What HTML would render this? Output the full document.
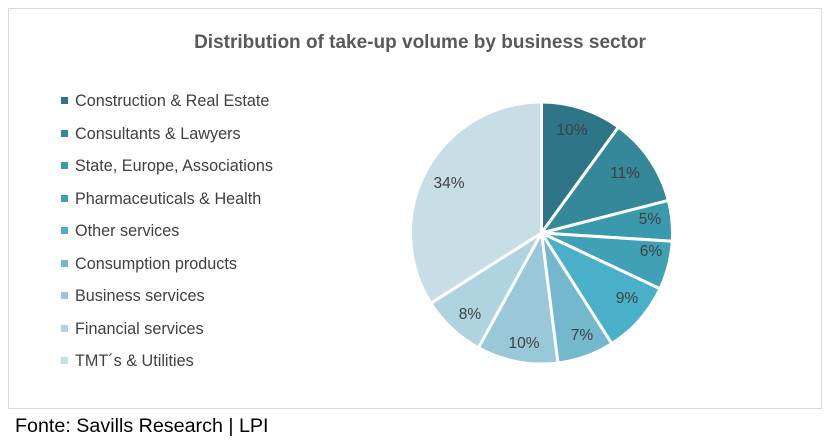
<!DOCTYPE html>
<html><head><meta charset="utf-8"><style>
body{margin:0;background:#fff;width:835px;height:441px;overflow:hidden;font-family:"Liberation Sans",sans-serif}
</style></head><body>
<svg width="835" height="441" xmlns="http://www.w3.org/2000/svg" font-family="Liberation Sans, sans-serif">
<rect x="8.5" y="8.5" width="813" height="400" fill="#fff" stroke="#d9d9d9"/>
<text x="420" y="48" text-anchor="middle" font-size="19" font-weight="bold" fill="#595959">Distribution of take-up volume by business sector</text>
<g font-size="16.2" fill="#404040">
<rect x="61" y="97" width="7" height="7" fill="#2e7587"/><text x="75" y="106">Construction &amp; Real Estate</text>
<rect x="61" y="130" width="7" height="7" fill="#348899"/><text x="75" y="139">Consultants &amp; Lawyers</text>
<rect x="61" y="162" width="7" height="7" fill="#3a99ad"/><text x="75" y="171">State, Europe, Associations</text>
<rect x="61" y="195" width="7" height="7" fill="#40a0b5"/><text x="75" y="204">Pharmaceuticals &amp; Health</text>
<rect x="61" y="227" width="7" height="7" fill="#4aafc8"/><text x="75" y="236">Other services</text>
<rect x="61" y="260" width="7" height="7" fill="#74b8cd"/><text x="75" y="269">Consumption products</text>
<rect x="61" y="292" width="7" height="7" fill="#99c8d8"/><text x="75" y="301">Business services</text>
<rect x="61" y="325" width="7" height="7" fill="#afd3df"/><text x="75" y="334">Financial services</text>
<rect x="61" y="357" width="7" height="7" fill="#c8dee6"/><text x="75" y="366">TMT´s &amp; Utilities</text>
</g>
<g id="pie" stroke="#fff" stroke-width="3" stroke-linejoin="round"></g>
<g font-size="15.5" fill="#404040" text-anchor="middle">
<text x="572" y="135">10%</text><text x="625" y="178">11%</text><text x="650" y="224">5%</text>
<text x="651" y="256">6%</text><text x="627" y="303">9%</text><text x="582" y="340">7%</text>
<text x="524" y="348">10%</text><text x="470" y="319">8%</text><text x="449" y="188">34%</text>
</g>
<text x="15" y="432" font-size="19.7" fill="#000">Fonte: Savills Research | LPI</text>
</svg>
<script>
var v=[10,11,5,6,9,7,10,8,34],c=["#2e7587","#348899","#3a99ad","#40a0b5","#4aafc8","#74b8cd","#99c8d8","#afd3df","#c8dee6"];
var cx=541.5,cy=233,r=131,a=0,g=document.getElementById("pie"),s="";
v.forEach(function(p,i){var a2=a+p/100*2*Math.PI;
var x1=cx+r*Math.sin(a),y1=cy-r*Math.cos(a),x2=cx+r*Math.sin(a2),y2=cy-r*Math.cos(a2);
s+='<path d="M'+cx+' '+cy+'L'+x1+' '+y1+'A'+r+' '+r+' 0 '+(p>50?1:0)+' 1 '+x2+' '+y2+'Z" fill="'+c[i]+'"/>';a=a2;});
g.innerHTML=s;
</script>
</body></html>
